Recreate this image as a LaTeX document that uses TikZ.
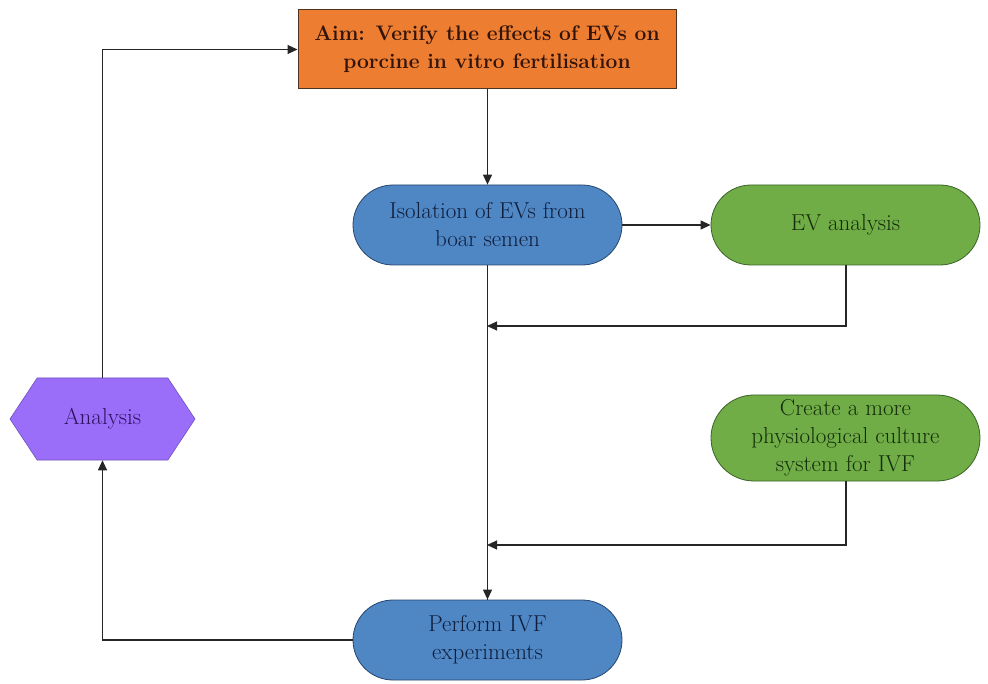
\documentclass[tikz,border=0pt]{standalone}
\usetikzlibrary{shapes.misc,shapes.symbols,arrows.meta}
\definecolor{aimfill}{RGB}{237,125,49}
\definecolor{aimdraw}{RGB}{80,50,30}
\definecolor{aimtext}{RGB}{50,20,10}
\definecolor{bluefill}{RGB}{79,134,196}
\definecolor{bluedraw}{RGB}{40,70,110}
\definecolor{bluetext}{RGB}{15,30,60}
\definecolor{greenfill}{RGB}{112,173,71}
\definecolor{greendraw}{RGB}{60,100,40}
\definecolor{greentext}{RGB}{20,45,10}
\definecolor{purplefill}{RGB}{155,110,250}
\definecolor{purpledraw}{RGB}{110,80,190}
\definecolor{purpletext}{RGB}{45,20,95}
\tikzset{
  txt/.style={font=\fontsize{23}{28}\selectfont, align=center},
  aimbox/.style={txt, rectangle, draw=aimdraw, line width=1pt, fill=aimfill, text=aimtext,
    minimum width=378pt, minimum height=79pt, inner sep=0pt, font=\fontsize{21}{28}\selectfont\bfseries},
  pillblue/.style={txt, rounded rectangle, draw=bluedraw, line width=0.8pt, fill=bluefill, text=bluetext,
    minimum width=269pt, minimum height=80pt, inner sep=0pt},
  pillgreen/.style={txt, rounded rectangle, draw=greendraw, line width=0.8pt, fill=greenfill, text=greentext,
    minimum width=269pt, minimum height=80pt, inner sep=0pt},
  hexbox/.style={txt, signal, signal to=west and east, signal pointer angle=113,
    draw=purpledraw, line width=0.6pt, fill=purplefill, text=purpletext,
    minimum width=185pt, minimum height=82pt, inner sep=0pt},
  conn/.style={draw=black!85, line width=1.1pt},
  arr/.style={conn, -{Triangle[length=10pt,width=9pt]}}
}
\begin{document}
\begin{tikzpicture}[x=1pt,y=-1pt]
\fill[white] (0,0) rectangle (988,684);
\useasboundingbox (0,0) rectangle (988,684);
\node[aimbox] (aim) at (487,49.5) {Aim: Verify the effects of EVs on\\porcine in vitro fertilisation};
\node[pillblue] (iso) at (487.5,225) {Isolation of EVs from\\boar semen};
\node[pillgreen] (eva) at (845.5,225) {EV analysis};
\node[pillgreen, minimum height=86pt] (cre) at (845.5,438) {Create a more\\physiological culture\\system for IVF};
\node[pillblue] (ivf) at (487.5,640) {Perform IVF\\experiments};
\node[hexbox] (ana) at (102.5,419) {Analysis};
\coordinate (j1) at (487,326);
\coordinate (j2) at (487,545);
\coordinate (c1) at (846,326);
\coordinate (c2) at (846,545);
\draw[arr] (aim.south -| iso.north) -- (iso.north);
\draw[arr] (iso.east) -- (eva.west);
\draw[conn] (iso.south) -- (ivf.north);
\draw[arr] (ivf.north) ++(0,-12) -- (ivf.north);
\draw[arr] (eva.south -| c1) -- (c1) -- (j1);
\draw[arr] (cre.south -| c2) -- (c2) -- (j2);
\draw[arr] (ivf.west) -| (ana.south);
\draw[arr] (ana.north) |- (aim.west);
\end{tikzpicture}
\end{document}
